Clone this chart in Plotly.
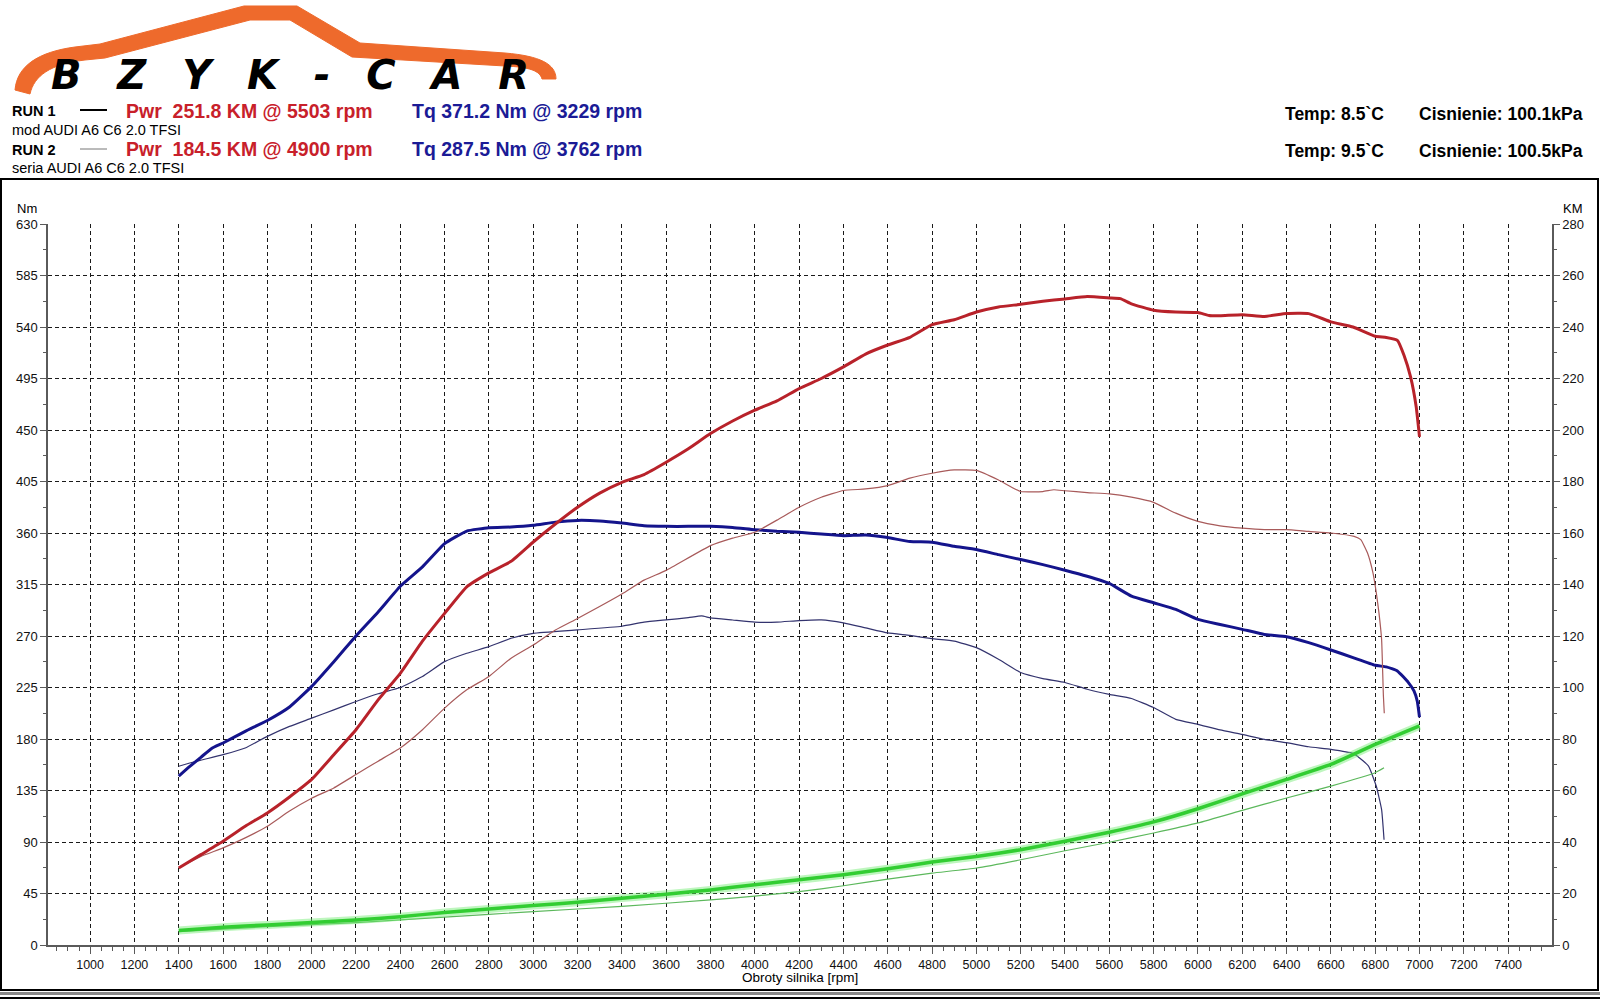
import plotly.graph_objects as go

# ---------------- data ----------------
# RUN 1 torque (Nm) - thick navy
rpm_t1 = [1400, 1450, 1500, 1550, 1600, 1700, 1800, 1900, 2000, 2100, 2200, 2300, 2400, 2500, 2600, 2700,
          2800, 2900, 3000, 3100, 3200, 3300, 3400, 3500, 3600, 3700, 3800, 3900, 4000, 4100, 4200, 4300,
          4400, 4500, 4600, 4700, 4800, 4900, 5000, 5100, 5200, 5300, 5400, 5500, 5600, 5700, 5800, 5900,
          6000, 6100, 6200, 6300, 6400, 6500, 6600, 6700, 6800, 6850, 6900, 6950, 6975, 6990, 7000]
tq1 = [147.5, 156, 164, 172, 176.5, 186.7, 196.2, 208, 226, 247.6, 270, 291, 313.5, 330.4, 350.7, 361.7,
       364.6, 365.2, 366.7, 369.5, 371, 370.5, 368.7, 366.4, 365.8, 365.8, 365.8, 364.9, 362.9, 361.5, 360.6, 359.1,
       357.7, 358.3, 356, 352.5, 352, 348.4, 345.5, 341.1, 336.8, 332.4, 327.5, 322.2, 315.9, 304.8, 299, 293.2,
       284.5, 280.1, 275.8, 271.4, 269.4, 264.2, 257.8, 251.1, 244.4, 243, 239.5, 229.3, 222, 213, 199]

# RUN 1 power (KM) - thick red
rpm_p1 = [1400, 1500, 1600, 1700, 1800, 1900, 2000, 2100, 2200, 2300, 2400, 2500, 2600, 2700, 2800, 2900,
          3000, 3100, 3200, 3300, 3400, 3500, 3600, 3700, 3800, 3900, 4000, 4100, 4200, 4300, 4400, 4500,
          4600, 4700, 4800, 4900, 5000, 5100, 5200, 5300, 5400, 5500, 5600, 5650, 5700, 5800, 5900, 6000,
          6050, 6100, 6200, 6300, 6400, 6500, 6600, 6700, 6800, 6850, 6900, 6930, 6960, 6985, 7000]
pw1 = [29.9, 35.1, 40.3, 46.1, 51.3, 57.5, 64.3, 73.9, 83.6, 95.2, 105.5, 118, 128.8, 139.1, 144.5, 149,
       156.5, 163.5, 170, 175.5, 179.7, 182.7, 187.5, 192.7, 198.6, 203.5, 207.7, 211.3, 216.1, 220, 224.5, 229.5,
       233, 236, 240.9, 242.8, 245.8, 247.8, 248.8, 250, 250.9, 251.8, 251.3, 251, 249, 246.5, 245.8, 245.6,
       244.5, 244.4, 244.8, 244.1, 245.2, 245.2, 242, 240, 236.4, 235.9, 234.8, 229, 220.5, 209, 197.3]

# RUN 2 torque (Nm) - thin navy
rpm_t2 = [1400, 1450, 1500, 1600, 1700, 1800, 1900, 2000, 2100, 2200, 2300, 2400, 2500, 2600, 2700, 2800,
          2900, 3000, 3200, 3400, 3500, 3600, 3700, 3760, 3800, 3900, 4000, 4100, 4200, 4300, 4400, 4500,
          4600, 4700, 4800, 4900, 5000, 5100, 5200, 5300, 5400, 5500, 5600, 5700, 5800, 5900, 6000, 6100,
          6200, 6300, 6400, 6500, 6600, 6700, 6720, 6770, 6805, 6829, 6840]
tq2 = [156.2, 159, 161.5, 166.3, 172.1, 182.3, 191, 198.2, 205.5, 212.8, 219.5, 225, 234.6, 247.6, 254.9, 260.7,
       268, 272.3, 275.3, 278.5, 282.1, 284.1, 286, 287.5, 285.9, 284, 282.1, 282.1, 283.5, 284.1, 281.5, 277.1,
       272.7, 270.5, 267.7, 265.6, 259.8, 249.7, 238.1, 232.8, 229.4, 223.5, 219, 215.4, 207.5, 197.2, 192.8, 187.9,
       184, 179.7, 176.8, 173.2, 170.9, 167.4, 165, 156.3, 138.7, 118.3, 92]

# RUN 2 power (KM) - thin red
rpm_p2 = [1400, 1500, 1600, 1700, 1800, 1900, 2000, 2100, 2200, 2300, 2400, 2500, 2600, 2700, 2800, 2900,
          3000, 3100, 3200, 3400, 3500, 3600, 3800, 3900, 4000, 4100, 4200, 4300, 4400, 4500, 4600, 4700,
          4800, 4900, 5000, 5100, 5200, 5300, 5350, 5400, 5500, 5600, 5700, 5800, 5900, 6000, 6100, 6200,
          6300, 6400, 6500, 6600, 6705, 6735, 6765, 6790, 6805, 6817, 6829, 6837, 6841]
pw2 = [30, 34.4, 37.7, 41.6, 46.1, 52, 57, 61, 66.2, 71.4, 76.5, 83.6, 92, 99.1, 104.3, 111.4,
       116.5, 122.3, 126.8, 136.3, 141.7, 145.5, 155.1, 158, 160.3, 165, 170, 173.9, 176.5, 177.1, 178.4, 181.3,
       183.2, 184.5, 184.3, 180.6, 176.1, 176.1, 176.8, 176.4, 175.7, 175.2, 173.9, 171.9, 167.7, 164.5, 162.8, 161.9,
       161.3, 161.3, 160.6, 160, 158.7, 157.4, 152.3, 144.5, 136.8, 129, 118.7, 96.8, 90]

# RUN 1 / RUN 2 loss power (KM) - green
rpm_g1 = [1400, 1600, 1800, 2000, 2200, 2400, 2600, 2800, 3000, 3200, 3400, 3600, 3800, 4000, 4200, 4400,
          4600, 4800, 5000, 5200, 5400, 5600, 5800, 6000, 6200, 6400, 6600, 6800, 7000]
loss1 = [5.6, 6.9, 7.8, 8.7, 9.7, 11, 12.6, 14, 15.3, 16.6, 18.2, 19.7, 21.4, 23.4, 25.3, 27.3,
         29.6, 32.2, 34.4, 37, 40.3, 43.8, 47.8, 52.9, 58.7, 64.3, 70.1, 77.9, 85.1]
rpm_g2 = [1400, 1800, 2200, 2600, 3000, 3400, 3800, 4000, 4200, 4400, 4600, 4800, 5000, 5200, 5400, 5600,
          5800, 6000, 6200, 6400, 6600, 6800, 6840]
loss2 = [5.2, 7.1, 8.7, 10.8, 13, 15, 17.5, 19, 20.7, 23, 25.6, 27.9, 29.9, 33.1, 36.6, 39.9,
         43.5, 47.4, 52.3, 57.1, 61.7, 66.9, 68.8]

nm_ticks = list(range(0, 631, 45))
km_ticks = list(range(0, 281, 20))

# ---------------- layout helpers (pixel -> paper) ----------------
L, R, T, B = 48, 48, 224, 55
W, H = 1600, 1000
PW, PH = W - L - R, H - T - B


def px(x):
    return (x - L) / PW


def py(y):
    return (H - B - y) / PH


SANS = "Liberation Sans, Arial, sans-serif"

fig = go.Figure()

SM = dict(shape="spline", smoothing=0.4)

# green loss curves
fig.add_trace(go.Scatter(x=rpm_g2, y=loss2, yaxis="y2", mode="lines",
                         line=dict(color="#5CB85C", width=1.2, **SM), hoverinfo="skip"))
fig.add_trace(go.Scatter(x=rpm_g1, y=loss1, yaxis="y2", mode="lines",
                         line=dict(color="rgba(110,235,110,0.45)", width=8, **SM), hoverinfo="skip"))
fig.add_trace(go.Scatter(x=rpm_g1, y=loss1, yaxis="y2", mode="lines",
                         line=dict(color="#32CD32", width=3.5, **SM), hoverinfo="skip"))
# run 2 thin curves
fig.add_trace(go.Scatter(x=rpm_t2, y=tq2, mode="lines",
                         line=dict(color="#33336E", width=1.2, **SM), hoverinfo="skip"))
fig.add_trace(go.Scatter(x=rpm_p2, y=pw2, yaxis="y2", mode="lines",
                         line=dict(color="#A85A5A", width=1.2, **SM), hoverinfo="skip"))
# run 1 thick curves
fig.add_trace(go.Scatter(x=rpm_t1, y=tq1, mode="lines",
                         line=dict(color="#14148C", width=3, **SM), hoverinfo="skip"))
fig.add_trace(go.Scatter(x=rpm_p1, y=pw1, yaxis="y2", mode="lines",
                         line=dict(color="#B8222A", width=3, **SM), hoverinfo="skip"))

axis_col = "#5a5a5a"
grid_col = "#1a1a1a"

fig.update_layout(
    width=W, height=H,
    margin=dict(l=L, r=R, t=T, b=B),
    paper_bgcolor="white", plot_bgcolor="white",
    showlegend=False,
    font=dict(family=SANS, color="black"),
    xaxis=dict(
        range=[810, 7598], tickmode="linear", tick0=1000, dtick=200,
        showgrid=True, gridcolor=grid_col, gridwidth=1, griddash="4px,3px",
        showline=True, linecolor=axis_col, linewidth=1.5,
        ticks="outside", ticklen=7, tickcolor=axis_col, tickwidth=1,
        minor=dict(dtick=50, tick0=0, ticks="outside", ticklen=4, tickcolor=axis_col, showgrid=False),
        tickfont=dict(size=12.5, family=SANS, color="#111"),
        zeroline=False, fixedrange=True,
    ),
    yaxis=dict(
        range=[0, 630], tickmode="array", tickvals=nm_ticks,
        showgrid=True, gridcolor=grid_col, gridwidth=1, griddash="4px,3px",
        showline=True, linecolor=axis_col, linewidth=1.5,
        ticks="outside", ticklen=6, tickcolor=axis_col,
        minor=dict(dtick=22.5, tick0=0, ticks="outside", ticklen=3, tickcolor=axis_col, showgrid=False),
        tickfont=dict(size=13, family=SANS, color="#111"),
        zeroline=False, fixedrange=True,
    ),
    yaxis2=dict(
        range=[0, 280], overlaying="y", side="right", tickmode="array", tickvals=km_ticks,
        showgrid=False, showline=True, linecolor=axis_col, linewidth=1.5,
        ticks="outside", ticklen=6, tickcolor=axis_col,
        minor=dict(dtick=10, tick0=0, ticks="outside", ticklen=3, tickcolor=axis_col, showgrid=False),
        tickfont=dict(size=13, family=SANS, color="#111"),
        zeroline=False, fixedrange=True,
    ),
)

ann = []


def text(x, y, s, size, color="black", family=SANS, xanchor="left", bold=False, italic=False):
    if bold:
        s = "<b>" + s + "</b>"
    if italic:
        s = "<i>" + s + "</i>"
    ann.append(dict(xref="paper", yref="paper", x=px(x), y=py(y), text=s, showarrow=False,
                    xanchor=xanchor, yanchor="middle", font=dict(size=size, color=color, family=family)))


RED = "#C8202A"
NAVY = "#1B1B96"

# header rows
text(10, 111, "RUN 1", 14.5, bold=True)
text(124, 111, "Pwr\u00a0 251.8 KM @ 5503 rpm", 19.5, RED, bold=True)
text(410, 111, "Tq 371.2 Nm @ 3229 rpm", 19.5, NAVY, bold=True)
text(10, 130, "mod AUDI A6 C6 2.0 TFSI", 14.5)
text(10, 150, "RUN 2", 14.5, bold=True)
text(124, 149, "Pwr\u00a0 184.5 KM @ 4900 rpm", 19.5, RED, bold=True)
text(410, 149, "Tq 287.5 Nm @ 3762 rpm", 19.5, NAVY, bold=True)
text(10, 168, "seria AUDI A6 C6 2.0 TFSI", 14.5)

text(1283, 114, "Temp: 8.5`C", 17.5, bold=True)
text(1417, 114, "Cisnienie: 100.1kPa", 17.5, bold=True)
text(1283, 151, "Temp: 9.5`C", 17.5, bold=True)
text(1417, 151, "Cisnienie: 100.5kPa", 17.5, bold=True)

# axis titles
text(27, 208, "Nm", 13, xanchor="center")
text(1573, 208, "KM", 13, xanchor="center")
text(800, 977, "Obroty silnika [rpm]", 13.5, xanchor="center")

# logo text (single text, letters spread out)
logo_text = "BZYK-CAR"
sp = "\u00a0\u00a0\u2009"
ann.append(dict(xref="paper", yref="paper", x=px(290), y=py(75), text="<b><i>" + sp.join(logo_text) + "</i></b>",
                showarrow=False, xanchor="center", yanchor="middle",
                font=dict(size=40, color="black", family="DejaVu Sans, sans-serif")))

fig.update_layout(annotations=ann)

shapes = []


def P(x, y):
    return f"{px(x):.5f},{py(y):.5f}"


logo_path = ("M " + P(15, 90) + " C " + P(17, 66) + " " + P(38, 52) + " " + P(75, 47) +
             " L " + P(100, 44) + " L " + P(244, 6) + " L " + P(297, 6) + " L " + P(360, 43) +
             " L " + P(505, 53) + " C " + P(540, 56) + " " + P(556, 64) + " " + P(556, 79) +
             " L " + P(542, 79) + " C " + P(540, 71) + " " + P(530, 67) + " " + P(505, 66) +
             " L " + P(352, 57) + " L " + P(290, 20) + " L " + P(250, 20) + " L " + P(105, 58) +
             " L " + P(85, 60) + " C " + P(50, 64) + " " + P(34, 76) + " " + P(30, 94) + " Z")
shapes.append(dict(type="path", xref="paper", yref="paper", path=logo_path,
                   fillcolor="#EE6A2C", line=dict(color="#EE6A2C", width=1), layer="below"))

# legend line samples
shapes.append(dict(type="line", xref="paper", yref="paper", x0=px(80), x1=px(107), y0=py(110), y1=py(110),
                   line=dict(color="black", width=2)))
shapes.append(dict(type="line", xref="paper", yref="paper", x0=px(80), x1=px(107), y0=py(149), y1=py(149),
                   line=dict(color="#777777", width=1)))

# frame
shapes.append(dict(type="rect", xref="paper", yref="paper", x0=px(1), x1=px(1598), y0=py(990), y1=py(179),
                   line=dict(color="black", width=2), layer="below"))
shapes.append(dict(type="line", xref="paper", yref="paper", x0=px(0), x1=px(1600), y0=py(993.5), y1=py(993.5),
                   line=dict(color="#8a8a8a", width=3)))
shapes.append(dict(type="line", xref="paper", yref="paper", x0=px(0), x1=px(1600), y0=py(998), y1=py(998),
                   line=dict(color="black", width=2)))

fig.update_layout(shapes=shapes)

fig.write_html("out.html", config={"displayModeBar": False})
